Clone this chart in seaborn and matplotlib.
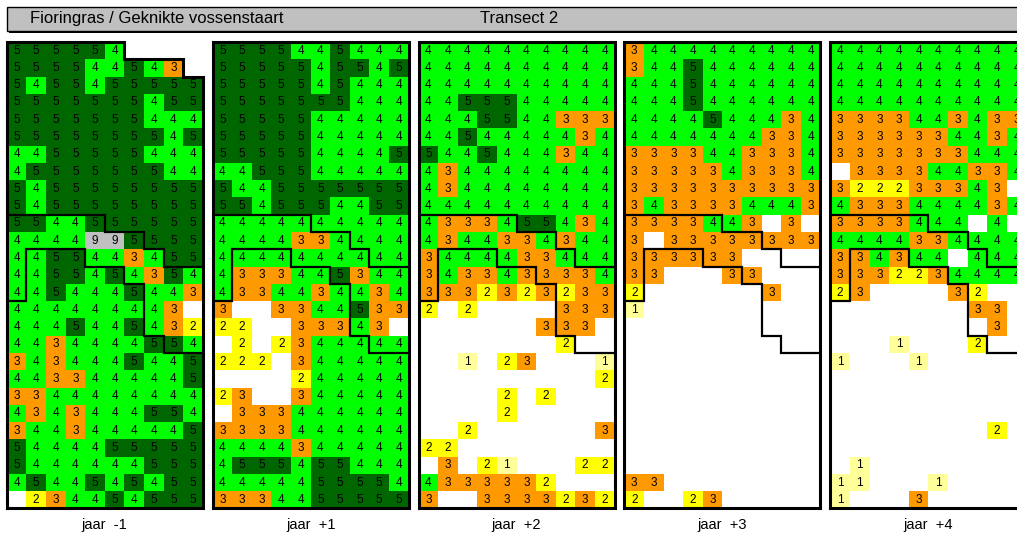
import numpy as np
import matplotlib
matplotlib.use("Agg")
import matplotlib.pyplot as plt
import seaborn as sns
from matplotlib.colors import ListedColormap, BoundaryNorm
from matplotlib.patches import Rectangle

plt.rcParams['font.family'] = ['Liberation Sans', 'DejaVu Sans']

# Cover classes per cell ('.' = empty cell), 27 rows x 10 columns per year
jaar_min1 = [
    "555554....", "555544543.", "5455455555", "5555555455", "5555555444",
    "5555555545", "4455555444", "4555555544", "5455555555", "5455555555",
    "5544555555", "4444995555", "4455443455", "4455454354", "4454445443",
    "444444443.", "4445445432", "4434444554", "3434445445", "4433444445",
    "3344444444", "4343444554", "3443444445", "5444455555", "5444444555",
    "4544545455", ".234454555",
]
jaar_plus1 = [
    "5555445444", "5555545545", "5555545444", "5555555444", "5555544444",
    "5555544444", "5555544445", "4455544444", "5445555555", "5545554455",
    "4444444444", "4444334444", "4444444444", "4333445344", "4334434434",
    "3..3344533", "22..33343.", ".2.2344444", "222.344444", "....244444",
    "23..344444", ".333444444", "3333444444", "4444344444", "4555455444",
    "4444455554", "3334455555",
]
jaar_plus2 = [
    "4444444444", "4444444444", "4444444444", "4455544444", "4445544333",
    "4454444434", "5445444344", "4344444444", "4344444444", "4444444444",
    "4333455434", "4344334344", "3444433444", "3433433334", "3332323233",
    "2.2....333", "......333.", ".......2..", "..1.23...1", ".........2",
    "....2.2...", "....2.....", "..2......3", "22........", ".3.21...22",
    "4333332...", "3..3333232",
]
jaar_plus3 = [
    "3444444444", "3445444444", "4445444444", "4445444444", "4444544434",
    "4444444334", "3333443334", "3333343334", "3333333333", "3433334443",
    "3333443.3.", "3.33333333", "333333....", "33...33...", "2......3..",
    "1.........", "..........", "..........", "..........", "..........",
    "..........", "..........", "..........", "..........", "..........",
    "33........", "2..23.....",
]
jaar_plus4 = [
    "4444444444", "4444444444", "4444444444", "4444444444", "3333443433",
    "3333334434", "3333333444", ".333344334", "322233343.", "4333444434",
    "3333444.4.", "4444334444", "334344.444", "3332234444", "23....32..",
    ".......33.", "........3.", "...1...2..", "1...1.....", "..........",
    "..........", "..........", "........2.", "..........", ".1........",
    "11...1....", "1...3.....",
]
grids = [jaar_min1, jaar_plus1, jaar_plus2, jaar_plus3, jaar_plus4]
labels = ["jaar  -1", "jaar  +1", "jaar  +2", "jaar  +3", "jaar  +4"]

# zone boundaries (row index below which the line runs, per column)
top_edge = [[0, 0, 0, 0, 0, 0, 1, 1, 1, 2]] + [[0] * 10] * 4
line_a = [10, 10, 10, 10, 10, 11, 11, 12, 13, 13]
line_b = [15, 12, 12, 12, 13, 13, 14, 17, 18, 18]

classes = [1, 2, 3, 4, 5, 9]
class_colors = ["#FFFF99", "#FFFF00", "#FF9900", "#00FF00", "#006600", "#C0C0C0"]
cmap = ListedColormap(class_colors)
norm = BoundaryNorm([0.5, 1.5, 2.5, 3.5, 4.5, 5.5, 9.5], cmap.N)

W, H = 1017, 539
fig = plt.figure(figsize=(W / 100, H / 100), dpi=100)

# header bar with a small shadow
fig.patches.append(Rectangle((8.5 / W, 1 - 32.5 / H), 1030 / W, 24 / H, transform=fig.transFigure,
                             facecolor="black", edgecolor="none"))
fig.patches.append(Rectangle((7 / W, 1 - 31 / H), 1030 / W, 24 / H, transform=fig.transFigure,
                             facecolor="#C0C0C0", edgecolor="black", lw=1.0))
fig.text(30 / W, 1 - 18.5 / H, "Fioringras / Geknikte vossenstaart", fontsize=12, va="center")
fig.text(480 / W, 1 - 18.5 / H, "Transect 2", fontsize=12, va="center")

top_px, bot_px, pw = 42, 508.5, 196
for i, rows in enumerate(grids):
    arr = np.array([[np.nan if c == "." else float(c) for c in r] for r in rows])
    left = 6.7 + i * 205.9
    ax = fig.add_axes([left / W, 1 - bot_px / H, pw / W, (bot_px - top_px) / H])
    sns.heatmap(arr, ax=ax, cmap=cmap, norm=norm, annot=True, fmt=".0f", cbar=False,
                xticklabels=False, yticklabels=False,
                annot_kws={"fontsize": 8.5, "color": "black"})
    nr, nc = arr.shape
    edges = np.arange(nc + 1)
    ax.stairs(line_a, edges, baseline=None, color="black", lw=1.6, clip_on=False)
    ax.stairs(line_b, edges, baseline=None, color="black", lw=1.6, clip_on=False)
    # outer border following the empty cells at the top
    xs, ys = [0], [nr]
    for j, t in enumerate(top_edge[i]):
        xs += [j, j + 1]
        ys += [t, t]
    xs += [nc, 0]
    ys += [nr, nr]
    ax.plot(xs, ys, color="black", lw=2.2, clip_on=False, solid_joinstyle="miter")
    ax.set_xlim(0, nc)
    ax.set_ylim(nr, 0)
    ax.text(0.5, -16 / (bot_px - top_px), labels[i], transform=ax.transAxes,
            ha="center", va="center", fontsize=10.5)

fig.savefig("out.png", dpi=100)
